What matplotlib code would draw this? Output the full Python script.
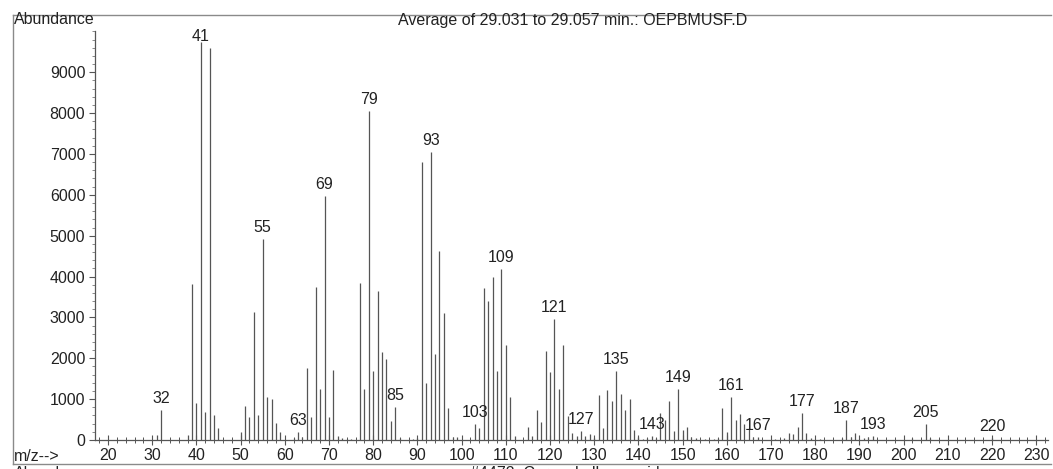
import matplotlib.pyplot as plt
from matplotlib.lines import Line2D

plt.rcParams['font.family'] = ['Liberation Sans', 'DejaVu Sans']

# mass spectrum
mz = [31, 32, 38, 39, 40, 41, 42, 43, 44, 45,
      50, 51, 52, 53, 54, 55, 56, 57, 58, 59,
      62, 63, 64, 65, 66, 67, 68, 69, 70, 71, 72, 73, 74, 75,
      77, 78, 79, 80, 81, 82, 83, 84, 85, 86, 89, 90,
      91, 92, 93, 94, 95, 96, 97, 98, 99,
      103, 104, 105, 106, 107, 108, 109, 110, 111, 112,
      115, 116, 117, 118, 119, 120, 121, 122, 123, 124, 125, 126, 127, 128, 129, 130,
      131, 132, 133, 134, 135, 136, 137, 138, 139, 140, 141, 142, 143, 144,
      145, 146, 147, 148, 149, 150, 151, 152, 153, 155, 157, 158,
      159, 160, 161, 162, 163, 164, 165, 166, 167, 171,
      173, 174, 175, 176, 177, 178, 179, 181, 186, 187, 188, 189, 191, 192, 193,
      202, 205, 206, 220]
abundance = [120, 730, 120, 3810, 900, 9730, 680, 9590, 610, 300,
             190, 830, 570, 3140, 610, 4910, 1050, 1000, 410, 200,
             60, 200, 80, 1750, 560, 3750, 1250, 5970, 570, 1710, 100, 40, 30, 30,
             3850, 1250, 8050, 1700, 3650, 2160, 1980, 470, 800, 60, 30, 40,
             6810, 1400, 7040, 2100, 4630, 3100, 780, 80, 80,
             380, 300, 3720, 3390, 4000, 1700, 4180, 2320, 1050, 110,
             320, 100, 730, 430, 2180, 1660, 2970, 1240, 2320, 580, 180, 100, 220, 100, 140, 50,
             1090, 290, 1230, 960, 1680, 1130, 730, 1010, 250, 80, 30, 40, 110, 60,
             660, 500, 950, 210, 1240, 250, 330, 80, 40, 30, 30, 40,
             790, 200, 1060, 480, 640, 390, 300, 70, 70, 30,
             50, 180, 150, 320, 650, 180, 60, 30, 40, 500, 70, 180, 60, 80, 110,
             60, 380, 60, 60]
labeled_mz = [32, 41, 55, 63, 69, 79, 85, 93, 103, 109, 121, 127,
              135, 143, 149, 161, 167, 177, 187, 193, 205, 220]

title = "Average of 29.031 to 29.057 min.: OEPBMUSF.D"
compound = "#4472: Caryophyllene oxide"

W, H = 1053, 469
fig = plt.figure(figsize=(W / 100, H / 100), dpi=100)
ax = fig.add_axes([95 / W, 1 - 440 / H, (1048 - 95) / W, (440 - 31.4) / H])

ink = '#222222'
ax.vlines(mz, 0, abundance, colors='#555555', linewidth=0.9)

peaks = dict(zip(mz, abundance))
for m in labeled_mz:
    ax.annotate(str(m), (m, min(peaks[m], 9600)), xytext=(0, 4),
                textcoords='offset pixels', ha='center', va='bottom',
                fontsize=11.5, color=ink)

ax.set_xlim(17.06, 232.67)
ax.set_ylim(0, 10000)
ax.set_xticks(range(20, 231, 10))
ax.set_xticks(range(18, 233, 2), minor=True)
ax.set_yticks(range(0, 9001, 1000))
ax.set_yticks(range(0, 10001, 200), minor=True)
ax.tick_params(axis='x', which='major', direction='inout', length=7, width=0.8,
               colors='#555555', labelcolor=ink, labelsize=11.5, pad=2)
ax.tick_params(axis='x', which='minor', direction='inout', length=5, width=0.7,
               colors='#555555')
ax.tick_params(axis='y', which='major', direction='out', length=4, width=0.8,
               colors='#555555', labelcolor=ink, labelsize=11.5, pad=3)
ax.tick_params(axis='y', which='minor', direction='out', length=2, width=0.6,
               colors='#777777')
for side in ['top', 'right']:
    ax.spines[side].set_visible(False)
for side in ['left', 'bottom']:
    ax.spines[side].set_color('#555555')
    ax.spines[side].set_linewidth(0.9)

# page frame and header/footer text
frame = '#8a8a8a'
fig.add_artist(Line2D([13 / W, 1051 / W], [1 - 15 / H, 1 - 15 / H], color=frame, lw=1))
fig.add_artist(Line2D([13 / W, 13 / W], [1 - 15 / H, 1 - 464 / H], color=frame, lw=1))
fig.add_artist(Line2D([13 / W, 1051 / W], [1 - 464 / H, 1 - 464 / H], color=frame, lw=1))

fig.text(14 / W, 1 - 20 / H, "Abundance", ha='left', va='center', fontsize=11.5, color=ink)
fig.text(398 / W, 1 - 20 / H, title, ha='left', va='center', fontsize=11.5, color=ink)
fig.text(14 / W, 1 - 456 / H, "m/z-->", ha='left', va='center', fontsize=11.5, color=ink)
fig.text(14 / W, 1 - 466 / H, "Abundance", ha='left', va='top', fontsize=11.5, color=ink)
fig.text(470 / W, 1 - 466 / H, compound, ha='left', va='top', fontsize=11.5, color=ink)

fig.savefig('out.png', dpi=100)
